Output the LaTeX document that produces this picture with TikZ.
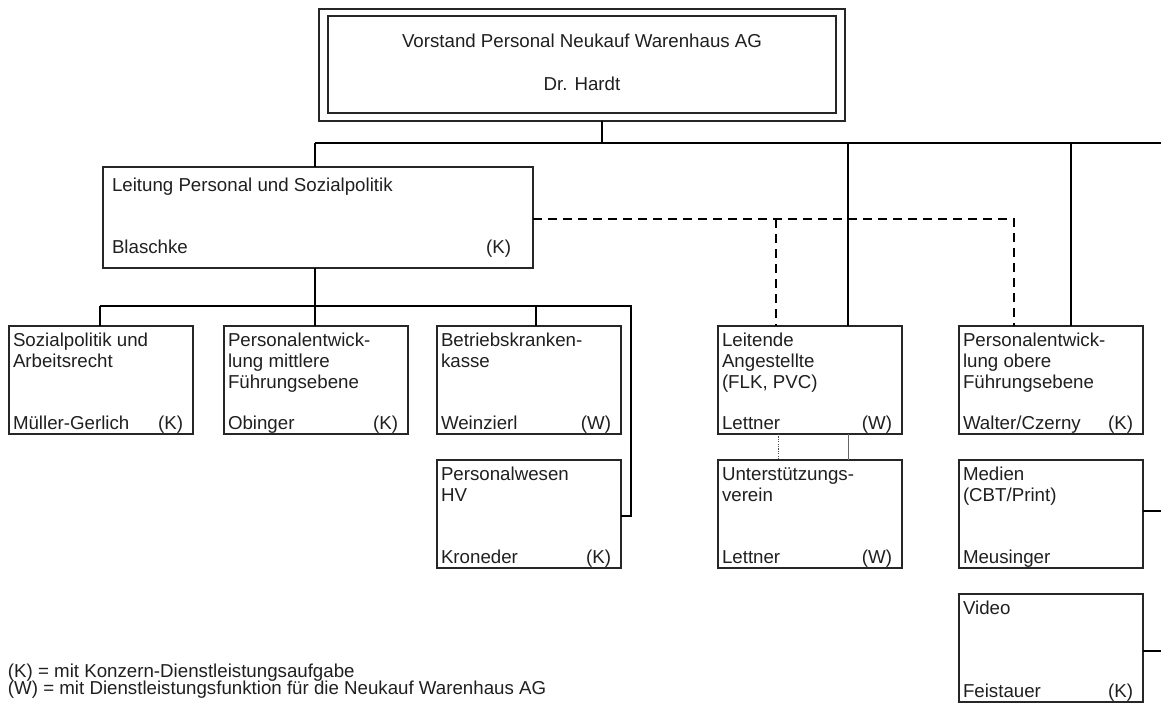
\documentclass[tikz,border=0pt]{standalone}
\usepackage{fontspec}
\setmainfont{Liberation Sans}
\begin{document}
\newcommand\stackl[1]{\begin{tabular}[t]{@{}l@{}}#1\end{tabular}}
\begin{tikzpicture}[x=1pt,y=-1pt,
  unitbox/.style={draw=black!85,line width=1.3pt,rectangle,inner sep=0pt,outer sep=0pt},
  txt/.style={inner sep=0pt,outer sep=0pt,text=black!88,font=\fontsize{18.7}{21}\selectfont},
  link/.style={line width=1.7pt,black},
  staff/.style={line width=1.6pt,black,dash pattern=on 9pt off 6pt},
  thinlink/.style={line width=0.9pt,black!60},
  dotlink/.style={line width=0.8pt,black!70,dash pattern=on 1.2pt off 1.2pt}]
\useasboundingbox (0,0) rectangle (1161,704);

% unit box: name, left, top, title lines, person, tag
\newcommand\orgbox[6]{%
  \node[unitbox,minimum width=184pt,minimum height=108pt,anchor=north west] (#1) at (#2,#3) {};
  \node[txt,anchor=base west] (#1-t) at ([shift={(4,20)}]#1.north west) {\stackl{#4}};
  \node[txt,anchor=base west] (#1-p) at ([shift={(4,-5)}]#1.south west) {#5};
  \node[txt,anchor=base east] (#1-k) at ([shift={(-10,-5)}]#1.south east) {#6};
}

% board member, double frame
\node[unitbox,minimum width=526pt,minimum height=112pt,anchor=north west] (top) at (319,9) {};
\draw[unitbox] ([shift={(9,7)}]top.north west) rectangle ([shift={(-9,-8)}]top.south east);
\node[txt,anchor=base] (top-t) at ([yshift=-38pt]top.north) {Vorstand Personal Neukauf Warenhaus AG};
\node[txt,anchor=base] (top-p) at ([yshift=-81pt]top.north) {Dr. Hardt};

% head of department
\node[unitbox,minimum width=430pt,minimum height=101pt,anchor=north west] (lead) at (103,167) {};
\node[txt,anchor=base west] (lead-t) at ([shift={(9,24)}]lead.north west) {Leitung Personal und Sozialpolitik};
\node[txt,anchor=base west] (lead-p) at ([shift={(9,-15)}]lead.south west) {Blaschke};
\node[txt,anchor=base east] (lead-k) at ([shift={(-22,-15)}]lead.south east) {(K)};

% first row
\orgbox{soz}{9}{326}{Sozialpolitik und\\Arbeitsrecht}{Müller-Gerlich}{(K)}
\orgbox{pem}{224}{326}{Personalentwick-\\lung mittlere\\Führungsebene}{Obinger}{(K)}
\orgbox{bkk}{437}{326}{Betriebskranken-\\kasse}{Weinzierl}{(W)}
\orgbox{lei}{718}{326}{Leitende\\Angestellte\\(FLK, PVC)}{Lettner}{(W)}
\orgbox{peo}{959}{326}{Personalentwick-\\lung obere\\Führungsebene}{Walter/Czerny}{(K)}
% second row
\orgbox{phv}{437}{460}{Personalwesen\\HV}{Kroneder}{(K)}
\orgbox{uv}{718}{460}{Unterstützungs-\\verein}{Lettner}{(W)}
\orgbox{med}{959}{460}{Medien\\(CBT/Print)}{Meusinger}{}
% third row
\orgbox{vid}{959}{594}{Video}{Feistauer}{(K)}

% junction points
\coordinate (s0) at (602,143);
\coordinate (busL) at (315,143);
\coordinate (busR) at (1161,143);
\coordinate (b1) at (848,143);
\coordinate (b2) at (1071,143);
\coordinate (r0) at (315,306);
\coordinate (rL) at (100,306);
\coordinate (rB) at (536,306);
\coordinate (rR) at (631,306);
\coordinate (rD) at (631,516);
\coordinate (d0) at (533,219);
\coordinate (d1) at (776,219);
\coordinate (d2) at (1014,219);
\coordinate (e1) at (1161,511);
\coordinate (e2) at (1161,651);
\coordinate (u1) at (778,434);
\coordinate (u2) at (848,434);

% line organisation
\draw[link] (top.south -| s0) -- (s0);
\draw[link] (busL) -- (busR);
\draw[link] (busL) -- (lead.north -| busL);
\draw[link] (b1) -- (lei.north -| b1);
\draw[link] (b2) -- (peo.north -| b2);
\draw[link] (lead.south -| r0) -- (r0);
\draw[link] (rL) -- (rR) -- (rD) -- (phv.east |- rD);
\draw[link] (rL) -- (soz.north -| rL);
\draw[link] (r0) -- (pem.north -| r0);
\draw[link] (rB) -- (bkk.north -| rB);
\draw[link] (med.east |- e1) -- (e1);
\draw[link] (vid.east |- e2) -- (e2);

% staff relations
\draw[staff] (lead.east |- d0) -- (d2) -- (peo.north -| d2);
\draw[staff] (d1) -- (lei.north -| d1);
\draw[dotlink] (u1) -- (uv.north -| u1);
\draw[thinlink] (u2) -- (uv.north -| u2);

% legend
\node[txt,anchor=base west] (leg1) at (8,677) {(K) = mit Konzern-Dienstleistungsaufgabe};
\node[txt,anchor=base west] (leg2) at (8,694) {(W) = mit Dienstleistungsfunktion für die Neukauf Warenhaus AG};
\end{tikzpicture}
\end{document}
